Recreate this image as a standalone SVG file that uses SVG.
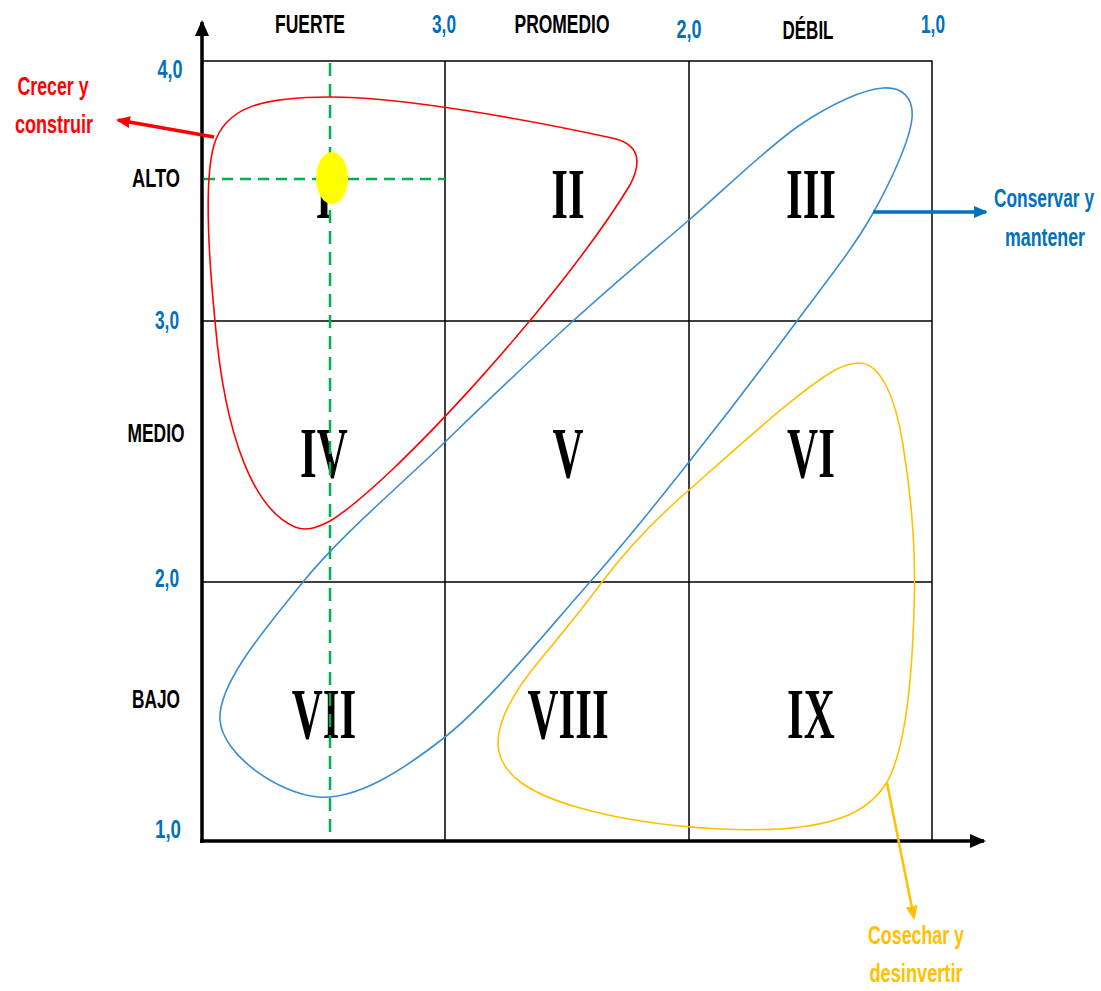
<svg xmlns="http://www.w3.org/2000/svg" width="1101" height="991" viewBox="0 0 1101 991">
<style>
.lbl{font-family:"Liberation Sans",Arial,sans-serif;font-weight:bold;font-size:17.5px;text-anchor:middle}
.blk{fill:#000}
.num{fill:#0070C0}
.rom{font-family:"Liberation Serif","Times New Roman",serif;font-weight:bold;font-size:43px;text-anchor:middle;fill:#000}
.grid{stroke:#000;stroke-width:1.5;fill:none}
.axis{stroke:#000;stroke-width:3.5;fill:none}
.dash{stroke:#00B050;stroke-width:2.5;fill:none}
.reg{fill:none;stroke-width:1.6}
</style>
<defs>
<marker id="ahBlack" markerUnits="userSpaceOnUse" markerWidth="16" markerHeight="16" viewBox="0 0 16 16" refX="14" refY="8" orient="auto"><path d="M0,1 L16,8 L0,15 Z" fill="#000"/></marker>
<marker id="ahRed" markerUnits="userSpaceOnUse" markerWidth="14" markerHeight="14" viewBox="0 0 14 14" refX="12" refY="7" orient="auto"><path d="M0,1 L14,7 L0,13 Z" fill="#FF0000"/></marker>
<marker id="ahBlue" markerUnits="userSpaceOnUse" markerWidth="14" markerHeight="14" viewBox="0 0 14 14" refX="12" refY="7" orient="auto"><path d="M0,1 L14,7 L0,13 Z" fill="#0070C0"/></marker>
<marker id="ahYellow" markerUnits="userSpaceOnUse" markerWidth="14" markerHeight="14" viewBox="0 0 14 14" refX="12" refY="7" orient="auto"><path d="M0,1 L14,7 L0,13 Z" fill="#FFC000"/></marker>
</defs>
<rect width="1101" height="991" fill="#fff"/>

<g id="grid">
<path class="grid" d="M202,61 H932 V841 M445,61 V841 M689,61 V841 M202,321 H932 M202,582 H932"/>
</g>

<g id="cells">
<text class="rom" transform="translate(324,218) scale(1,1.67)">I</text>
<text class="rom" transform="translate(568,218) scale(1,1.67)">II</text>
<text class="rom" transform="translate(811,218) scale(1,1.67)">III</text>
<text class="rom" transform="translate(324,477) scale(1,1.67)">IV</text>
<text class="rom" transform="translate(568,477) scale(1,1.67)">V</text>
<text class="rom" transform="translate(811,477) scale(1,1.67)">VI</text>
<text class="rom" transform="translate(324,738) scale(1,1.67)">VII</text>
<text class="rom" transform="translate(568,738) scale(1,1.67)">VIII</text>
<text class="rom" transform="translate(811,738) scale(1,1.67)">IX</text>
</g>

<g id="guides">
<path class="dash" stroke-dasharray="13 8" d="M330,63 V841"/>
<path class="dash" stroke-dasharray="11 7" d="M204,179 H445"/>
</g>

<g id="marker-point">
<ellipse cx="332" cy="178" rx="16" ry="26" fill="#FFFF00"/>
</g>

<g id="axes">
<path class="axis" d="M202,843 V22" marker-end="url(#ahBlack)"/>
<path class="axis" d="M200,841 H984" marker-end="url(#ahBlack)"/>
</g>

<g id="regions">
<path id="region-red" class="reg" stroke="#FF0000" d="M330,97 C400,97 520,118 612,138 C640,144 642,162 630,185 C560,300 390,485 330,521 C315,529 305,531 295,527 C255,510 225,440 215,321 C208,250 204,180 214,145 C225,108 260,97 330,97 Z"/>
<path id="region-blue" class="reg" stroke="#3A8DD0" d="M883,88 C901.7,86.8 913.8,96.8 912,118 C910.2,139.2 891.2,181.2 872,215 C852.8,248.8 827.5,279.8 797,321 C766.5,362.2 723.5,418.5 689,462 C654.5,505.5 630.7,536.2 590,582 C549.3,627.8 490.3,701.2 445,737 C399.7,772.8 355.5,799.8 318,797 C280.5,794.2 222.5,755.8 220,720 C217.5,684.2 265.5,628.3 303,582 C340.5,535.7 400,485.5 445,442 C490,398.5 532.3,358 573,321 C613.7,284 651.2,252.7 689,220 C726.8,187.3 767.7,147 800,125 C832.3,103 864.3,89.2 883,88 Z"/>
<path id="region-yellow" class="reg" stroke="#FFC000" d="M859,363 C880,363 895,395 903,445 C912,500 916,560 914,610 C912,680 905,750 887,782 C870,810 840,825 780,829 C720,832 640,825 580,808 C530,794 500,775 498,745 C497,720 515,690 540,660 C560,636 585,605 602,582 C630,545 660,515 689,490 C740,445 800,390 835,370 C845,365 852,363 859,363 Z"/>
</g>

<g id="connectors">
<path d="M214,137 L118,120" stroke="#FF0000" stroke-width="3.5" fill="none" marker-end="url(#ahRed)"/>
<path d="M873,212 L986,212" stroke="#0070C0" stroke-width="3.5" fill="none" marker-end="url(#ahBlue)"/>
<path d="M887,783 L914,918" stroke="#FFC000" stroke-width="2.5" fill="none" marker-end="url(#ahYellow)"/>
</g>

<g id="col-labels">
<text class="lbl blk" transform="translate(310,33) scale(1,1.42)" textLength="70" lengthAdjust="spacingAndGlyphs">FUERTE</text>
<text class="lbl blk" transform="translate(562,33) scale(1,1.42)" textLength="95" lengthAdjust="spacingAndGlyphs">PROMEDIO</text>
<text class="lbl blk" transform="translate(808,39) scale(1,1.42)" textLength="51" lengthAdjust="spacingAndGlyphs">DÉBIL</text>
<text class="lbl num" transform="translate(444,33) scale(1,1.42)" textLength="24" lengthAdjust="spacingAndGlyphs">3,0</text>
<text class="lbl num" transform="translate(689,38) scale(1,1.42)" textLength="25" lengthAdjust="spacingAndGlyphs">2,0</text>
<text class="lbl num" transform="translate(933,33) scale(1,1.42)" textLength="24" lengthAdjust="spacingAndGlyphs">1,0</text>
</g>

<g id="row-labels">
<text class="lbl blk" transform="translate(156,187) scale(1,1.42)" textLength="48" lengthAdjust="spacingAndGlyphs">ALTO</text>
<text class="lbl blk" transform="translate(156,442) scale(1,1.42)" textLength="57" lengthAdjust="spacingAndGlyphs">MEDIO</text>
<text class="lbl blk" transform="translate(156,708) scale(1,1.42)" textLength="48" lengthAdjust="spacingAndGlyphs">BAJO</text>
<text class="lbl num" transform="translate(170,78) scale(1,1.42)" textLength="25" lengthAdjust="spacingAndGlyphs">4,0</text>
<text class="lbl num" transform="translate(167,329) scale(1,1.42)" textLength="24" lengthAdjust="spacingAndGlyphs">3,0</text>
<text class="lbl num" transform="translate(167,587) scale(1,1.42)" textLength="24" lengthAdjust="spacingAndGlyphs">2,0</text>
<text class="lbl num" transform="translate(168,838) scale(1,1.42)" textLength="26" lengthAdjust="spacingAndGlyphs">1,0</text>
</g>

<g id="label-crecer">
<text class="lbl" fill="#FF0000" transform="translate(53,95) scale(1,1.42)" textLength="71" lengthAdjust="spacingAndGlyphs">Crecer y</text>
<text class="lbl" fill="#FF0000" transform="translate(54,133) scale(1,1.42)" textLength="78" lengthAdjust="spacingAndGlyphs">construir</text>
</g>
<g id="label-conservar">
<text class="lbl" fill="#0070C0" transform="translate(1044,207) scale(1,1.42)" textLength="100" lengthAdjust="spacingAndGlyphs">Conservar y</text>
<text class="lbl" fill="#0070C0" transform="translate(1045,246) scale(1,1.42)" textLength="80" lengthAdjust="spacingAndGlyphs">mantener</text>
</g>
<g id="label-cosechar">
<text class="lbl" fill="#FFC000" transform="translate(916,944) scale(1,1.42)" textLength="96" lengthAdjust="spacingAndGlyphs">Cosechar y</text>
<text class="lbl" fill="#FFC000" transform="translate(916,982) scale(1,1.42)" textLength="93" lengthAdjust="spacingAndGlyphs">desinvertir</text>
</g>
</svg>
